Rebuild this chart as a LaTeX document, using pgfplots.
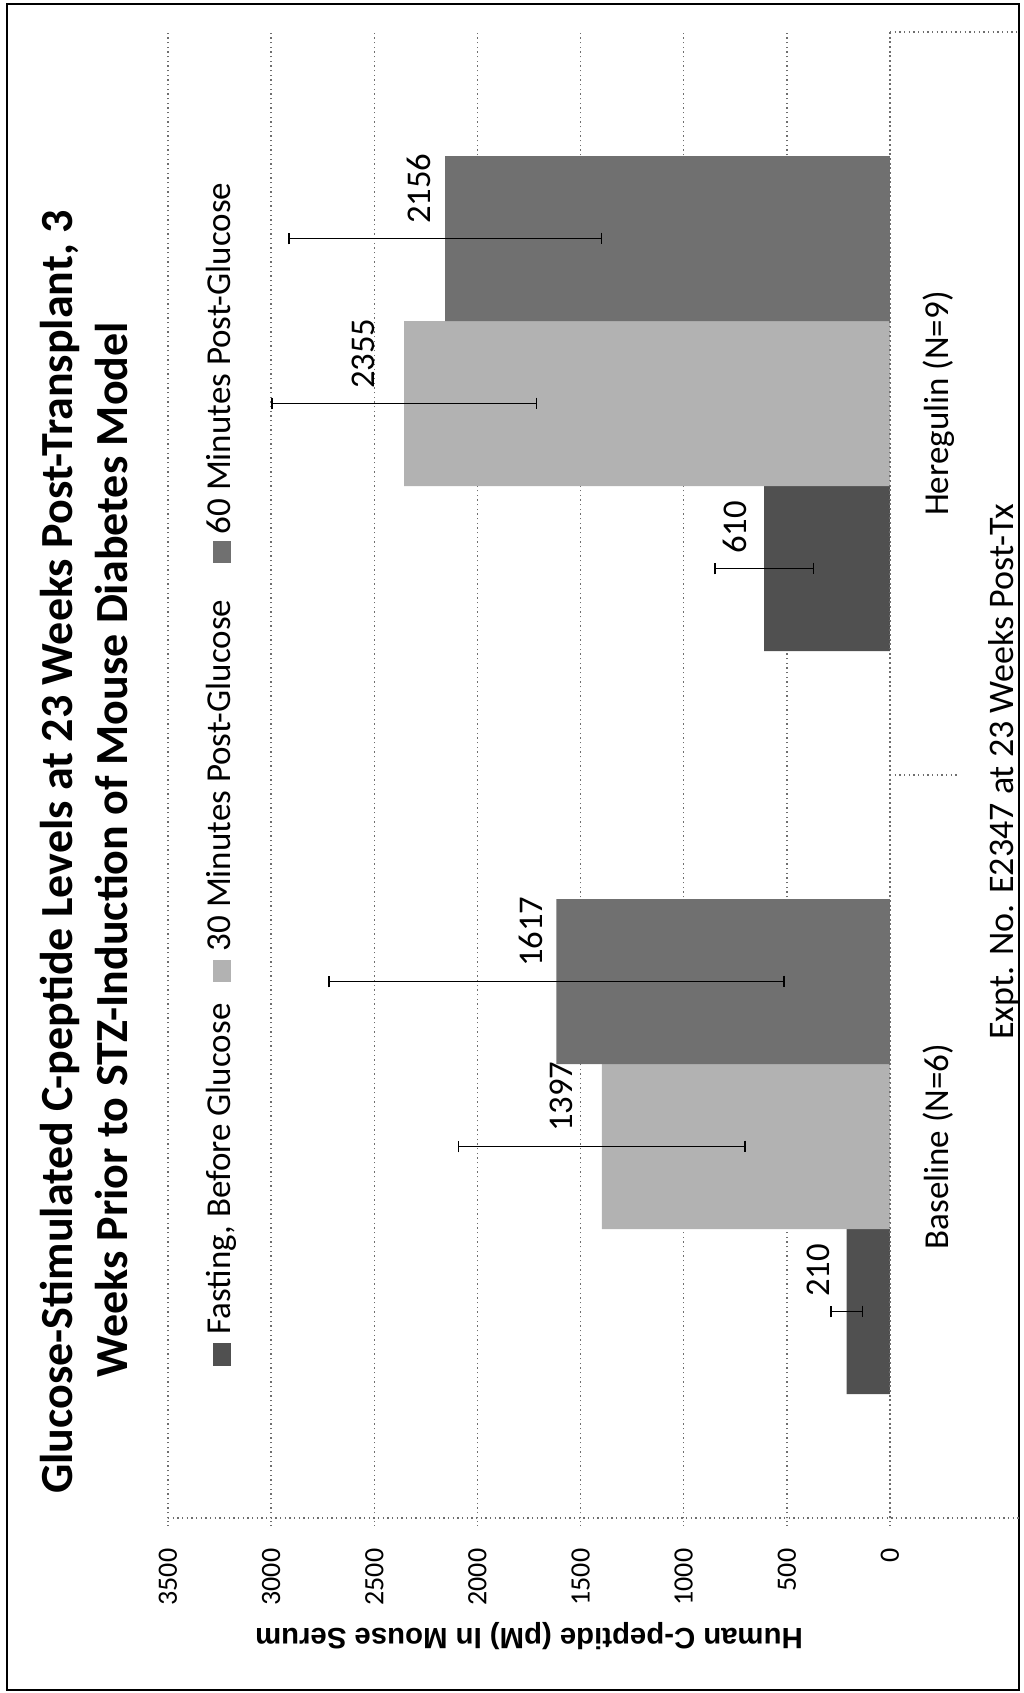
\documentclass[border=0pt]{standalone}
\usepackage{fontspec}
\setmainfont{Carlito}
\newfontfamily\arialfont{Liberation Sans}
\usepackage{pgfplots}
\pgfplotsset{compat=1.18}
\usepackage{pgfplotstable}
\definecolor{cfast}{RGB}{80,80,80}
\definecolor{cthirty}{RGB}{178,178,178}
\definecolor{csixty}{RGB}{112,112,112}
\definecolor{gridc}{RGB}{110,110,110}

\pgfplotstableread{
cat val err
0 210 77
1 610 239
}\fasting
\pgfplotstableread{
cat val err
0 1397 695
1 2355 642
}\thirty
\pgfplotstableread{
cat val err
0 1617 1103
1 2156 758
}\sixty

\begin{document}
\begin{tikzpicture}[x=0.3pt,y=0.3pt]
\useasboundingbox (0,0) rectangle (1023,-1693);
\draw[line width=0.8pt] (7,-4) rectangle (1019,-1690);
\begin{axis}[
  at={(50.4pt,-455.4pt)}, anchor=south west,
  scale only axis, width=216.6pt, height=445.8pt,
  xbar, bar width=49.5pt,
  x dir=reverse,
  xmin=0, xmax=3500, ymin=-0.5, ymax=1.5,
  xtick={0,500,...,3500},
  ytick=\empty,
  axis lines*=left,
  axis line style={draw=none},
  xtick style={gridc, densely dotted, line width=0.4pt},
  tick align=outside, major tick length=2.4pt,
  xmajorgrids,
  major grid style={gridc, densely dotted, line width=0.4pt},
  /pgf/number format/1000 sep={},
  /pgf/number format/assume math mode=true,
  xticklabel style={font=\fontsize{8.4}{10}\selectfont, yshift=-6.6pt, rotate=90, anchor=east, inner sep=0pt},
  point meta=x,
  nodes near coords,
  every node near coord/.append style={font=\fontsize{10.4}{12}\selectfont, text=black, xshift=-3pt, yshift=4.2pt, rotate=90, anchor=south west, inner sep=0pt},
  error bars/x dir=both, error bars/x explicit,
  error bars/error mark=|,
  error bars/error bar style={black, line width=0.45pt},
  error bars/error mark options={black, mark size=1.75pt, line width=0.45pt},
]
\addplot[fill=cfast, draw=none, bar shift=-49.5pt,
  every node near coord/.append style={yshift=2pt}]
  table[x=val, y=cat, x error=err] {\fasting};
\addplot[fill=cthirty, draw=none, bar shift=0pt,
  every node near coord/.append style={yshift=5.5pt}]
  table[x=val, y=cat, x error=err] {\thirty};
\addplot[fill=csixty, draw=none, bar shift=49.5pt,
  every node near coord/.append style={yshift=1pt}]
  table[x=val, y=cat, x error=err] {\sixty};
\end{axis}
% axis lines and category ticks
\draw[gridc, densely dotted, line width=0.4pt] (890,-32) -- (890,-1518);
\draw[gridc, densely dotted, line width=0.4pt] (168,-1518) -- (1019,-1518);
\draw[gridc, densely dotted, line width=0.4pt] (890,-32) -- (1019,-32);
\draw[gridc, densely dotted, line width=0.4pt] (890,-775) -- (957,-775);
% category labels
\node[rotate=90, anchor=base, inner sep=0pt, font=\fontsize{10.5}{12}\selectfont] at (948,-1146.5) {Baseline (N=6)};
\node[rotate=90, anchor=base, inner sep=0pt, font=\fontsize{10.5}{12}\selectfont] at (948,-403.5) {Heregulin (N=9)};
\node[rotate=90, anchor=base, inner sep=0pt, font=\fontsize{10.8}{13}\selectfont] at (1013,-772) {Expt. No. E2347 at 23 Weeks Post-Tx};
% value axis label
\node[rotate=180, anchor=base, inner sep=0pt, font=\arialfont\bfseries\fontsize{8.8}{10}\selectfont] at (529,-1628) {Human C-peptide (pM) In Mouse Serum};
% title
\node[rotate=90, anchor=base, inner sep=0pt, font=\bfseries\fontsize{13.8}{16}\selectfont] at (72,-852) {Glucose-Stimulated C-peptide Levels at 23 Weeks Post-Transplant, 3};
\node[rotate=90, anchor=base, inner sep=0pt, font=\bfseries\fontsize{13.8}{16}\selectfont] at (127,-850) {Weeks Prior to STZ-Induction of Mouse Diabetes Model};
% legend
\fill[cfast] (213,-1343) rectangle (231,-1366);
\node[rotate=90, anchor=base west, inner sep=0pt, font=\fontsize{10.5}{12}\selectfont] at (230,-1335) {Fasting, Before Glucose};
\fill[cthirty] (213,-960) rectangle (231,-982);
\node[rotate=90, anchor=base west, inner sep=0pt, font=\fontsize{10.5}{12}\selectfont] at (230,-952) {30 Minutes Post-Glucose};
\fill[csixty] (213,-541) rectangle (231,-563);
\node[rotate=90, anchor=base west, inner sep=0pt, font=\fontsize{10.5}{12}\selectfont] at (230,-535) {60 Minutes Post-Glucose};
\end{tikzpicture}
\end{document}
